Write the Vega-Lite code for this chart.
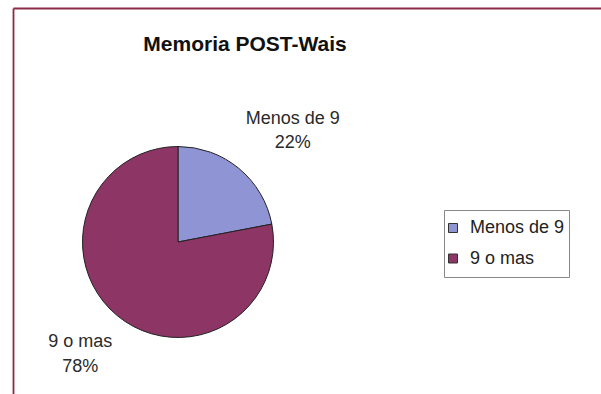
{
  "$schema": "https://vega.github.io/schema/vega-lite/v6.json",
  "width": 330,
  "height": 468,
  "autosize": {"type": "none"},
  "padding": {"left": 13, "top": 8, "right": 258, "bottom": 0},
  "background": "white",
  "title": {
    "text": "Memoria POST-Wais",
    "font": "Liberation Sans",
    "fontSize": 21,
    "fontWeight": "bold",
    "color": "#111111",
    "anchor": "middle",
    "frame": "group",
    "baseline": "alphabetic",
    "offset": -65,
    "dx": 67
  },
  "data": {
    "values": [
      {"category": "Menos de 9", "share": 0.22},
      {"category": "9 o mas", "share": 0.78}
    ]
  },
  "layer": [
    {
      "mark": {"type": "rule", "opacity": 0},
      "encoding": {
        "y": {
          "datum": 1,
          "type": "quantitative",
          "scale": {"domain": [0, 1]},
          "axis": {
            "values": [1],
            "labels": false,
            "title": null,
            "grid": false,
            "domainColor": "#8C2A47",
            "domainWidth": 1.8,
            "tickColor": "#8C2A47",
            "tickWidth": 1.8,
            "tickSize": -620
          }
        }
      }
    },
    {
      "mark": {"type": "arc", "outerRadius": 95.5, "stroke": "#222222", "strokeWidth": 1},
      "encoding": {
        "theta": {"field": "share", "type": "quantitative", "stack": true},
        "order": {"field": "share", "sort": "ascending"},
        "color": {
          "field": "category",
          "type": "nominal",
          "scale": {"domain": ["Menos de 9", "9 o mas"], "range": ["#8F94D4", "#8D3565"]},
          "legend": {
            "orient": "none",
            "legendX": 431,
            "legendY": 202,
            "title": null,
            "symbolType": "square",
            "symbolSize": 81,
            "symbolStrokeColor": "#333333",
            "symbolStrokeWidth": 1,
            "symbolOpacity": 1,
            "symbolOffset": -4,
            "labelFont": "Liberation Sans",
            "labelFontSize": 18,
            "labelColor": "#222222",
            "strokeColor": "#888888",
            "fillColor": "white",
            "padding": 4,
            "rowPadding": 2.5,
            "clipHeight": 28,
            "labelOffset": 8
          }
        }
      }
    },
    {
      "mark": {"type": "text", "radius": 154, "thetaOffset": 0.07, "dx": 8.5, "dy": -11.5, "font": "Liberation Sans", "fontSize": 18, "color": "#2a2a2a", "baseline": "middle", "align": "center"},
      "encoding": {
        "theta": {"field": "share", "type": "quantitative", "stack": true},
        "order": {"field": "share", "sort": "ascending"},
        "text": {"field": "category", "type": "nominal"}
      }
    },
    {
      "mark": {"type": "text", "radius": 154, "thetaOffset": 0.07, "dx": 8.5, "dy": 13, "font": "Liberation Sans", "fontSize": 18, "color": "#2a2a2a", "baseline": "middle", "align": "center"},
      "encoding": {
        "theta": {"field": "share", "type": "quantitative", "stack": true},
        "order": {"field": "share", "sort": "ascending"},
        "text": {"field": "share", "type": "quantitative", "format": ".0%"}
      }
    }
  ],
  "config": {"view": {"stroke": null}}
}
